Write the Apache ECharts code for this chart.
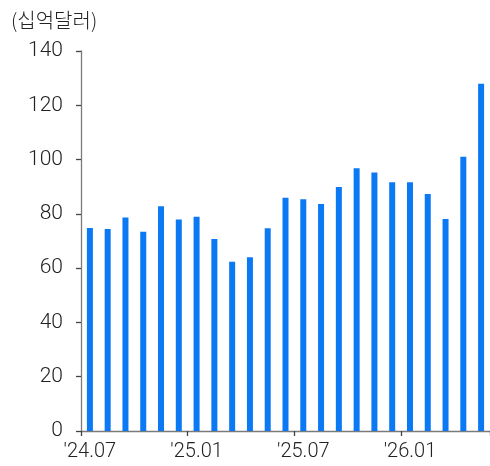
<!DOCTYPE html>
<html>
<head>
<meta charset="utf-8">
<script src="https://cdn.jsdelivr.net/npm/echarts@6/dist/echarts.min.js"></script>
<style>
  html, body { margin: 0; padding: 0; background: #fff; }
  #chart { width: 490px; height: 466px; }
</style>
</head>
<body>
<div id="chart"></div>
<script>
// Monthly values, '24.07 through '26.05 (unit: billion USD)
const months = [
  "'24.07", "'24.08", "'24.09", "'24.10", "'24.11", "'24.12",
  "'25.01", "'25.02", "'25.03", "'25.04", "'25.05", "'25.06",
  "'25.07", "'25.08", "'25.09", "'25.10", "'25.11", "'25.12",
  "'26.01", "'26.02", "'26.03", "'26.04", "'26.05"
];
const values = [
  74.8, 74.4, 78.7, 73.4, 82.8, 77.9,
  78.9, 70.7, 62.4, 64.0, 74.7, 85.9,
  85.4, 83.6, 89.9, 96.8, 95.2, 91.6,
  91.6, 87.3, 78.1, 101.0, 127.9
];
const unitLabel = '(십억달러)';

const textColor = '#222';
const axisColor = '#7a7a7a';
const fontFamily = 'Roboto, "Noto Sans", sans-serif';

const chart = echarts.init(document.getElementById('chart'), null, { renderer: 'canvas' });
chart.setOption({
  animation: false,
  backgroundColor: '#fff',
  title: {
    text: unitLabel,
    left: 6,
    top: 5,
    textStyle: {
      fontFamily: '"Noto Sans CJK KR", sans-serif',
      fontSize: 20,
      fontWeight: 300,
      color: textColor
    }
  },
  grid: { left: 81, top: 51, width: 410, height: 380, containLabel: false },
  xAxis: {
    type: 'category',
    data: months,
    boundaryGap: true,
    axisLine: { show: true, lineStyle: { color: axisColor, width: 1.3 } },
    axisTick: { show: true, interval: 5, length: 5, lineStyle: { color: '#444', width: 1.3 } },
    axisLabel: {
      interval: 5,
      margin: 11,
      color: textColor,
      fontFamily: fontFamily,
      fontWeight: 300,
      fontSize: 20
    },
    splitLine: { show: false }
  },
  yAxis: {
    type: 'value',
    min: 0,
    max: 140,
    interval: 20,
    axisLine: { show: true, lineStyle: { color: axisColor, width: 1.3 } },
    axisTick: { show: true, length: 5, lineStyle: { color: '#444', width: 1.3 } },
    axisLabel: {
      margin: 18,
      color: textColor,
      fontFamily: fontFamily,
      fontWeight: 300,
      fontSize: 21
    },
    splitLine: { show: false }
  },
  series: [{
    type: 'bar',
    data: values,
    barWidth: 6,
    itemStyle: { color: '#0b78f4' }
  }]
});
</script>
</body>
</html>
